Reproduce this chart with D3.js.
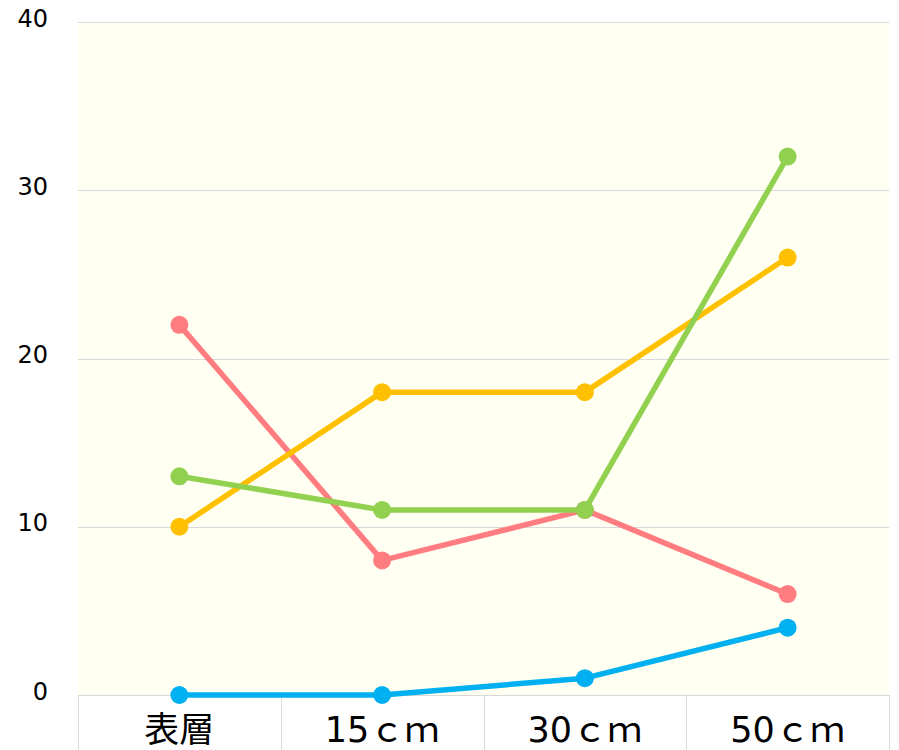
<!DOCTYPE html>
<html>
<head>
<meta charset="utf-8">
<script src="https://d3js.org/d3.v7.min.js"></script>
<style>
  body { margin: 0; background: #fff; }
  svg { display: block; }
</style>
</head>
<body>
<svg width="899" height="750"></svg>
<script>
// categories and series
var categories = ["表層", "15ｃｍ", "30ｃｍ", "50ｃｍ"];
var blueValues = [0, 0, 1, 4];
var redValues = [22, 8, 11, 6];
var yellowValues = [10, 18, 18, 26];
var greenValues = [13, 11, 11, 32];
var yTicks = [0, 10, 20, 30, 40];

// drawing order: later ones sit on top
var series = [
  {name: "blue", color: "#00b0f0", values: blueValues},
  {name: "red", color: "#ff7c80", values: redValues},
  {name: "yellow", color: "#ffc000", values: yellowValues},
  {name: "green", color: "#92d050", values: greenValues}
];

var plotLeft = 78, plotRight = 889, plotTop = 22, plotBottom = 695;
var svg = d3.select("svg");

var xScale = d3.scaleBand()
  .domain(categories)
  .range([plotLeft, plotRight]);

var yScale = d3.scaleLinear()
  .domain([0, 40])
  .range([plotBottom, plotTop]);

// plot background
svg.append("rect")
  .attr("x", plotLeft)
  .attr("y", plotTop)
  .attr("width", plotRight - plotLeft)
  .attr("height", plotBottom - plotTop)
  .attr("fill", "#fffff2");

// horizontal gridlines
svg.append("g").selectAll("line").data(yTicks).enter().append("line")
  .attr("x1", plotLeft)
  .attr("x2", plotRight)
  .attr("y1", function (d) { return Math.round(yScale(d)) + 0.5; })
  .attr("y2", function (d) { return Math.round(yScale(d)) + 0.5; })
  .attr("stroke", "#d9d9d9")
  .attr("stroke-width", 1);

// y tick labels
svg.append("g").selectAll("text").data(yTicks).enter().append("text")
  .attr("x", 48)
  .attr("y", function (d) { return yScale(d) - 4; })
  .attr("dy", "0.36em")
  .attr("text-anchor", "end")
  .attr("font-family", "DejaVu Sans, sans-serif")
  .attr("font-size", 24)
  .attr("fill", "#000")
  .text(function (d) { return d; });

// category boxes under the axis
var bounds = categories.map(function (c) { return xScale(c); }).concat([plotRight]);
svg.append("g").selectAll("line").data(bounds).enter().append("line")
  .attr("x1", function (d) { return Math.round(d) + 0.5; })
  .attr("x2", function (d) { return Math.round(d) + 0.5; })
  .attr("y1", plotBottom)
  .attr("y2", 750)
  .attr("stroke", "#d9d9d9")
  .attr("stroke-width", 1);

svg.append("g").selectAll("text").data(categories).enter().append("text")
  .attr("x", function (d) { return xScale(d) + xScale.bandwidth() / 2; })
  .attr("y", 742)
  .attr("text-anchor", "middle")
  .attr("font-family", "DejaVu Sans, 'Noto Sans CJK JP', sans-serif")
  .attr("font-size", 35)
  .attr("fill", "#000")
  .text(function (d) { return d; });

// lines and markers
var line = d3.line()
  .x(function (d, i) { return xScale(categories[i]) + xScale.bandwidth() / 2; })
  .y(function (d) { return yScale(d); });

series.forEach(function (s) {
  var g = svg.append("g");
  g.append("path")
    .attr("d", line(s.values))
    .attr("fill", "none")
    .attr("stroke", s.color)
    .attr("stroke-width", 5.5)
    .attr("stroke-linejoin", "round");
  g.selectAll("circle").data(s.values).enter().append("circle")
    .attr("cx", function (d, i) { return xScale(categories[i]) + xScale.bandwidth() / 2; })
    .attr("cy", function (d) { return yScale(d); })
    .attr("r", 9)
    .attr("fill", s.color);
});
</script>
</body>
</html>
